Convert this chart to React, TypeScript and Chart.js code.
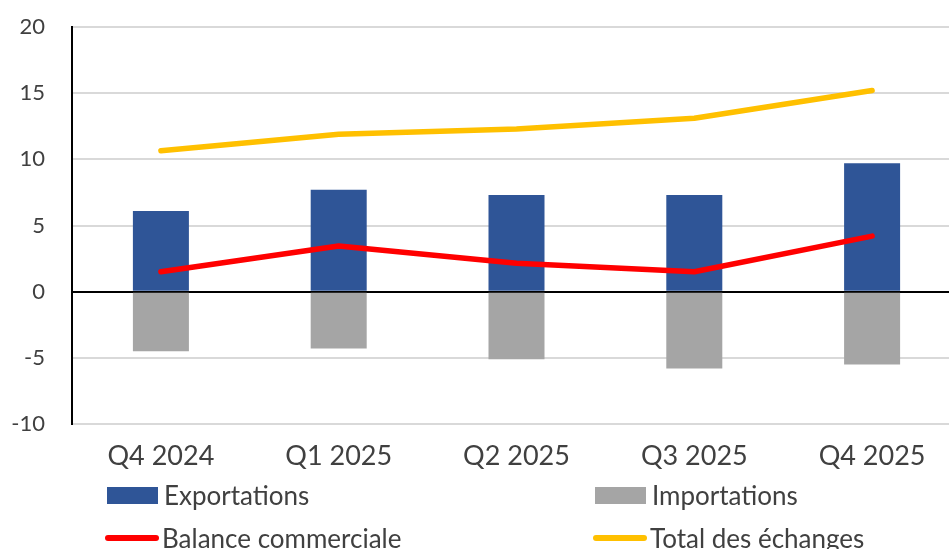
import React, { useEffect, useRef } from "react";
import { Chart, registerables } from "chart.js";

Chart.register(...registerables);

const categories = ["Q4 2024", "Q1 2025", "Q2 2025", "Q3 2025", "Q4 2025"];
const exportations = [6.1, 7.7, 7.3, 7.3, 9.7];
const importations = [-4.5, -4.3, -5.1, -5.8, -5.5];
const balance = [1.5, 3.45, 2.15, 1.5, 4.2];
const totalEchanges = [10.65, 11.9, 12.3, 13.1, 15.2];
const yTicks = [-10, -5, 0, 5, 10, 15, 20];

const BLUE = "#2F5597";
const GRAY = "#A5A5A5";
const RED = "#FF0000";
const YELLOW = "#FFC000";
const TEXT = "#404040";
const FONT = "Lato, 'Noto Sans', sans-serif";

const legendItems = [
  { label: "Exportations", color: BLUE, kind: "box", left: 107, top: 495 },
  { label: "Importations", color: GRAY, kind: "box", left: 595, top: 495 },
  { label: "Balance commerciale", color: RED, kind: "line", left: 107, top: 538 },
  { label: "Total des échanges", color: YELLOW, kind: "line", left: 595, top: 538 },
];

export default function App() {
  const ref = useRef<HTMLCanvasElement | null>(null);

  useEffect(() => {
    if (!ref.current) return;
    const chart = new Chart(ref.current, {
      type: "bar",
      data: {
        labels: categories,
        datasets: [
          {
            type: "line",
            label: "Balance commerciale",
            data: balance,
            borderColor: RED,
            backgroundColor: RED,
            borderWidth: 5.5,
            borderCapStyle: "round",
            borderJoinStyle: "round",
            pointRadius: 0,
            tension: 0,
            stack: "bal",
            order: 1,
          } as any,
          {
            type: "line",
            label: "Total des échanges",
            data: totalEchanges,
            borderColor: YELLOW,
            backgroundColor: YELLOW,
            borderWidth: 5.5,
            borderCapStyle: "round",
            borderJoinStyle: "round",
            pointRadius: 0,
            tension: 0,
            stack: "tot",
            order: 1,
          } as any,
          {
            type: "bar",
            label: "Exportations",
            data: exportations,
            backgroundColor: BLUE,
            stack: "trade",
            order: 2,
            categoryPercentage: 1,
            barPercentage: 0.315,
          },
          {
            type: "bar",
            label: "Importations",
            data: importations,
            backgroundColor: GRAY,
            stack: "trade",
            order: 2,
            categoryPercentage: 1,
            barPercentage: 0.315,
          },
        ],
      },
      options: {
        responsive: false,
        animation: false,
        devicePixelRatio: 1,
        layout: { padding: { top: 27, right: 0, bottom: 0, left: 0 } },
        plugins: {
          legend: { display: false },
          tooltip: { enabled: false },
        },
        scales: {
          x: {
            stacked: true,
            grid: { display: false, drawTicks: false, tickLength: 0 },
            border: { display: false },
            ticks: {
              color: TEXT,
              font: { family: FONT, size: 27 },
              padding: 16,
              maxRotation: 0,
            },
            afterFit: (scale: any) => {
              scale.height = 125;
            },
          },
          y: {
            stacked: true,
            min: -10,
            max: 20,
            afterBuildTicks: (scale: any) => {
              scale.ticks = yTicks.map((v) => ({ value: v }));
            },
            grid: {
              color: (ctx: any) => (ctx.tick && ctx.tick.value === 0 ? "#000000" : "#D9D9D9"),
              lineWidth: 2,
              drawTicks: true,
              tickLength: 27,
              tickColor: "rgba(0,0,0,0)",
            },
            border: { display: true, color: "#000000", width: 2 },
            ticks: {
              color: TEXT,
              font: { family: FONT, size: 22 },
              padding: 0,
            },
            afterFit: (scale: any) => {
              scale.width = 72;
            },
          },
        },
      },
    });
    return () => chart.destroy();
  }, []);

  return (
    <div
      style={{
        position: "fixed",
        left: 0,
        top: 0,
        width: 949,
        height: 549,
        overflow: "hidden",
        background: "#ffffff",
      }}
    >
      <div style={{ position: "absolute", left: 0, top: 0, width: 961, height: 549 }}>
        <canvas ref={ref} width={961} height={549} style={{ display: "block" }} />
      </div>
      {legendItems.map((it) => (
        <div
          key={it.label}
          style={{
            position: "absolute",
            left: it.left,
            top: it.top,
            transform: "translateY(-50%)",
            display: "flex",
            alignItems: "center",
            fontFamily: FONT,
            fontSize: 26,
            color: TEXT,
            whiteSpace: "nowrap",
            lineHeight: "30px",
          }}
        >
          {it.kind === "box" ? (
            <span
              style={{
                display: "inline-block",
                width: 51,
                height: 17,
                background: it.color,
                marginRight: 6,
              }}
            />
          ) : (
            <span
              style={{
                display: "inline-block",
                width: 54,
                height: 6,
                borderRadius: 3,
                background: it.color,
                marginRight: 3,
                marginLeft: -2,
              }}
            />
          )}
          <span>{it.label}</span>
        </div>
      ))}
    </div>
  );
}
